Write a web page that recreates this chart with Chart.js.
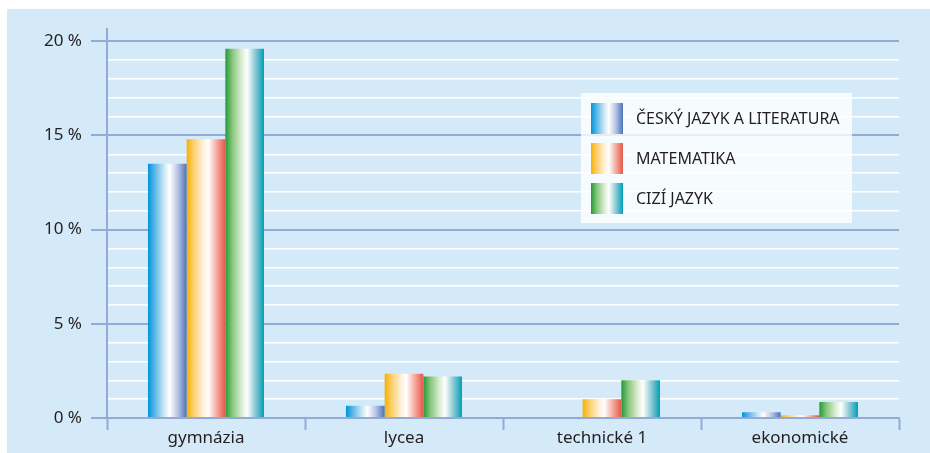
<!DOCTYPE html>
<html lang="cs">
<head>
  <meta charset="UTF-8" />
  <title>Podíl žáků</title>
  <script src="https://cdn.jsdelivr.net/npm/chart.js"></script>
  <style>
    body {
        margin: 0;
        background: #ffffff;
        font-family: "Noto Sans", sans-serif;
    }
    .panel {
        position: absolute;
        left: 7px;
        top: 9px;
        width: 923px;
        height: 444px;
        background: #d5eaf8;
    }
    #chart {
        position: absolute;
        left: 0;
        top: 0;
    }
    .legend {
        position: absolute;
        left: 581px;
        top: 93px;
        width: 271px;
        height: 130px;
        background: rgba(255,255,255,0.78);
    }
    .legend .item {
        position: absolute;
        left: 10px;
        height: 31px;
        line-height: 31px;
        font-size: 16px;
        color: #231f20;
        white-space: nowrap;
    }
    .legend .sw {
        display: inline-block;
        width: 32px;
        height: 31px;
        vertical-align: top;
        margin-right: 13px;
    }
  </style>
</head>
<body>
  <div class="panel"></div>
  <canvas id="chart" width="930" height="453"></canvas>
  <div class="legend" id="legend"></div>

  <script>
    const categories = ['gymnázia', 'lycea', 'technické 1', 'ekonomické'];
    const seriesNames = ['ČESKÝ JAZYK A LITERATURA', 'MATEMATIKA', 'CIZÍ JAZYK'];
    const cesky = [13.5, 0.65, 0, 0.3];
    const matematika = [14.8, 2.35, 1.0, 0.15];
    const cizi = [19.6, 2.2, 2.0, 0.85];
    // gridlines every 1 %, labels every 5 %
    const yTicks = [0, 1, 2, 3, 4, 5, 6, 7, 8, 9, 10, 11, 12, 13, 14, 15, 16, 17, 18, 19, 20];

    // gradient stops per series, left -> right across a bar
    const stops = [
      [[0, '#0094d8'], [0.18, '#5cb8e6'], [0.42, '#cfe7f6'], [0.56, '#ffffff'], [0.78, '#b4c1e2'], [1, '#4a72b8']],
      [[0, '#f8b000'], [0.18, '#fccf6e'], [0.42, '#fff0d6'], [0.56, '#ffffff'], [0.78, '#f4aa9c'], [1, '#e4574a']],
      [[0, '#25993a'], [0.18, '#86c67a'], [0.42, '#dcedd4'], [0.56, '#ffffff'], [0.78, '#88c8d2'], [1, '#009fb9']]
    ];
    const solid = ['#4aa6dc', '#f5a65a', '#4ab07a'];

    const major = '#93a9d6';

    const gradientBars = {
      id: 'gradientBars',
      afterDatasetsUpdate(chart) {
        const ctx = chart.ctx;
        chart.data.datasets.forEach((ds, i) => {
          chart.getDatasetMeta(i).data.forEach(el => {
            const {x, width} = el.getProps(['x', 'width'], true);
            const g = ctx.createLinearGradient(x - width / 2, 0, x + width / 2, 0);
            stops[i].forEach(s => g.addColorStop(s[0], s[1]));
            el.options.backgroundColor = g;
          });
        });
      }
    };

    const data = [cesky, matematika, cizi];

    new Chart(document.getElementById('chart'), {
      type: 'bar',
      data: {
        labels: categories,
        datasets: data.map((d, i) => ({
          label: seriesNames[i],
          data: d,
          backgroundColor: () => solid[i],
          borderWidth: 0,
          barPercentage: 1,
          categoryPercentage: 0.586
        }))
      },
      plugins: [gradientBars],
      options: {
        responsive: false,
        devicePixelRatio: 1,
        animation: false,
        layout: { padding: { left: 0, top: 29, right: 31, bottom: 0 } },
        plugins: {
          legend: { display: false },
          tooltip: { enabled: false }
        },
        scales: {
          x: {
            grid: {
              drawOnChartArea: false,
              drawTicks: true,
              tickLength: 12,
              tickColor: major,
              tickWidth: 2,
              color: major
            },
            border: { display: true, color: major, width: 2 },
            ticks: {
              color: '#231f20',
              padding: 0,
              font: { family: 'Noto Sans', size: 17, lineHeight: 1 }
            },
            afterFit: s => { s.height = 35; }
          },
          y: {
            min: 0,
            max: 20.65,
            afterBuildTicks: s => { s.ticks = yTicks.map(v => ({ value: v })); },
            ticks: {
              autoSkip: false,
              color: '#231f20',
              padding: 9,
              font: { family: 'Noto Sans', size: 17 },
              callback: v => (v % 5 === 0 ? v + ' %' : '')
            },
            grid: {
              tickLength: 16,
              lineWidth: c => (c.tick && c.tick.value % 5 === 0 ? 2 : 1.5),
              color: c => (c.tick && c.tick.value % 5 === 0 ? major : '#ffffff'),
              tickColor: c => (c.tick && c.tick.value % 5 === 0 ? major : 'rgba(0,0,0,0)')
            },
            border: { display: true, color: major, width: 2 },
            afterFit: s => { s.width = 107; }
          }
        }
      }
    });

    // legend
    const legend = document.getElementById('legend');
    seriesNames.forEach((name, i) => {
      const item = document.createElement('div');
      item.className = 'item';
      item.style.top = (10 + i * 40) + 'px';
      const sw = document.createElement('span');
      sw.className = 'sw';
      sw.style.background = 'linear-gradient(to right, ' +
        stops[i].map(s => s[1] + ' ' + (s[0] * 100) + '%').join(', ') + ')';
      item.appendChild(sw);
      item.appendChild(document.createTextNode(name));
      legend.appendChild(item);
    });
  </script>
</body>
</html>
